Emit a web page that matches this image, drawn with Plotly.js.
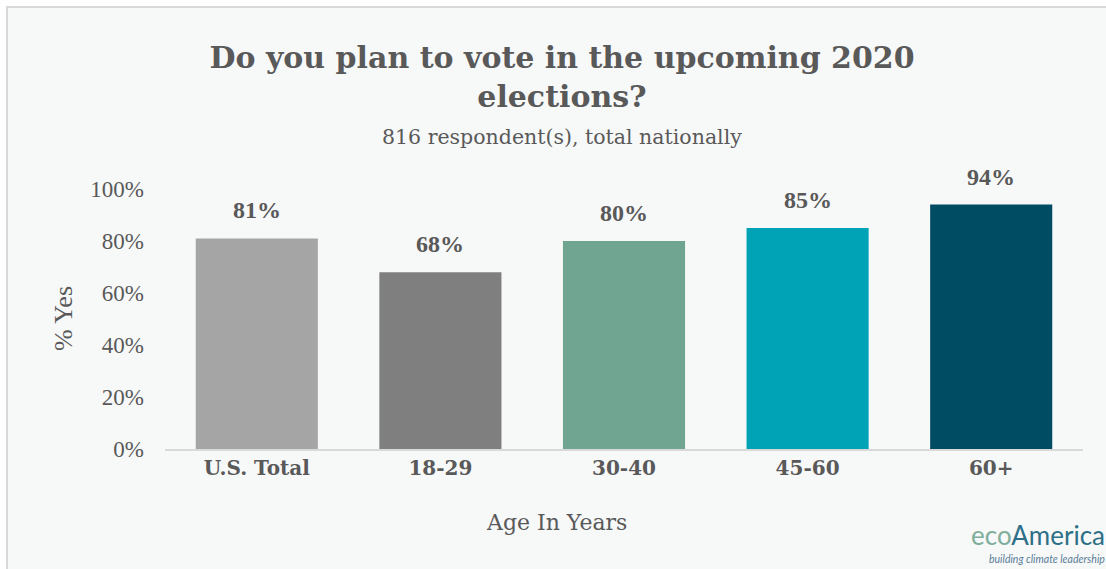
<!DOCTYPE html>
<html>
<head>
<meta charset="utf-8">
<script src="https://cdn.plot.ly/plotly-3.0.1.min.js"></script>
<style>html,body{margin:0;padding:0;background:#fff;}#chart{width:1106px;height:569px;}</style>
</head>
<body>
<div id="chart"></div>
<script>
const categories = ["U.S. Total", "18-29", "30-40", "45-60", "60+"];
const yesPct = [81, 68, 80, 85, 94];
const barColors = ["#a5a5a5", "#7f7f7f", "#70a591", "#00a3b5", "#004c63"];
const tickVals = [0, 20, 40, 60, 80, 100];
const tickText = ["0%", "20%", "40%", "60%", "80%", "100%"];

const W = 1106, H = 569;
const L = 165, R = 23, T = 189, B = 120;
const pw = W - L - R, ph = H - T - B;
function px(x){ return (x - L) / pw; }
function py(y){ return (H - B - y) / ph; }

const serif = "Liberation Serif, Times New Roman, serif";
const wide = "DejaVu Serif, serif";
const grey = "#595959";

const trace = {
  type: "bar",
  x: categories,
  y: yesPct,
  marker: { color: barColors },
  cliponaxis: false,
  hoverinfo: "skip"
};

const valueLabels = categories.map((c, i) => ({
  text: "<b>" + yesPct[i] + "%</b>",
  x: c, y: yesPct[i], xref: "x", yref: "y",
  xanchor: "center", yanchor: "bottom", yshift: 13, showarrow: false,
  font: { family: serif, size: 24, color: grey }
}));

const layout = {
  width: W, height: H,
  margin: { l: L, r: R, t: T, b: B },
  paper_bgcolor: "#ffffff",
  plot_bgcolor: "rgba(0,0,0,0)",
  showlegend: false,
  bargap: 0.335,
  font: { family: serif, color: grey },
  title: {
    text: "<b>Do you plan to vote in the upcoming 2020<br>elections?</b>",
    font: { family: wide, size: 30, color: grey },
    x: 562 / W, xanchor: "center", xref: "container",
    y: 1 - 68 / H, yanchor: "top", yref: "container"
  },
  xaxis: {
    type: "category",
    showline: true, linecolor: "#d9d9d9", linewidth: 2,
    ticks: "", showgrid: false,
    tickfont: { family: wide, size: 20, color: grey },
    tickprefix: "<b>", ticksuffix: "</b>"
  },
  yaxis: {
    range: [0, 100],
    tickvals: tickVals, ticktext: tickText,
    showgrid: false, zeroline: false, showline: false,
    ticks: "", ticklen: 0, ticklabelstandoff: 20,
    tickfont: { family: serif, size: 23, color: grey }
  },
  shapes: [{
    type: "rect", xref: "paper", yref: "paper", layer: "below",
    x0: px(7), x1: px(1110), y0: py(575), y1: py(7),
    fillcolor: "#f7f8f8", line: { color: "#d9d9d9", width: 2 }
  }],
  annotations: valueLabels.concat([
    {
      text: "816 respondent(s), total nationally",
      xref: "paper", yref: "paper", x: px(562), y: py(137),
      xanchor: "center", yanchor: "middle", showarrow: false,
      font: { family: wide, size: 20.5, color: grey }
    },
    {
      text: "Age In Years",
      xref: "paper", yref: "paper", x: px(556), y: py(522),
      xanchor: "center", yanchor: "middle", showarrow: false,
      font: { family: wide, size: 22, color: grey }
    },
    {
      text: "% Yes",
      xref: "paper", yref: "paper", x: px(63), y: py(319),
      xanchor: "center", yanchor: "middle", showarrow: false, textangle: -90,
      font: { family: serif, size: 26, color: grey }
    },
    {
      text: "<span style='color:#7fae9c'>eco</span><span style='color:#2d6f86'>America</span>",
      xref: "paper", yref: "paper", x: px(1106), y: py(535),
      xanchor: "right", yanchor: "middle", showarrow: false, borderpad: 0,
      font: { family: "Lato, Open Sans, sans-serif", size: 26, color: "#2d6f86" }
    },
    {
      text: "<i>building climate leadership</i>",
      xref: "paper", yref: "paper", x: px(1106), y: py(559),
      xanchor: "right", yanchor: "middle", showarrow: false, borderpad: 0,
      font: { family: "Lato, Open Sans, sans-serif", size: 10.5, color: "#5a7d99" }
    }
  ])
};

Plotly.newPlot("chart", [trace], layout, { displayModeBar: false, staticPlot: true });
</script>
</body>
</html>
